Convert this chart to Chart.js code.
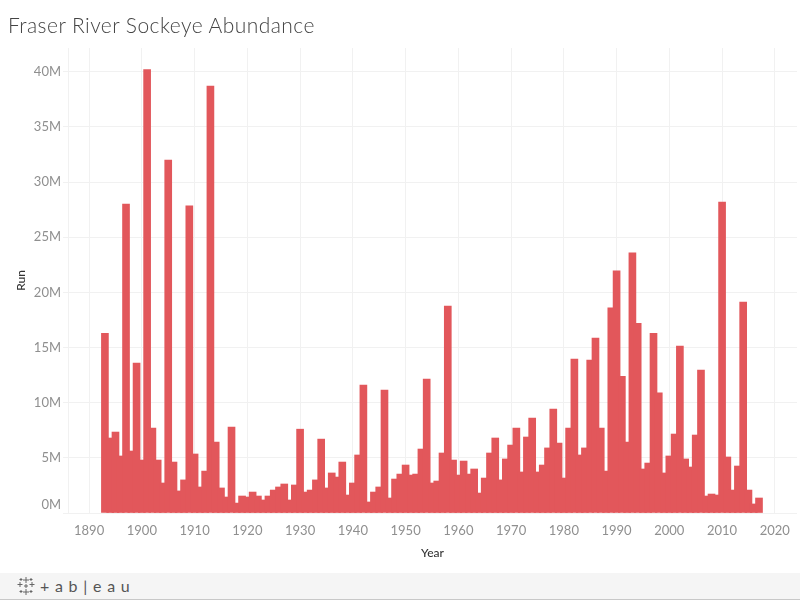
<!DOCTYPE html><html lang="en">
<head>
  <meta charset="UTF-8">
  <title>Fraser River Sockeye Abundance</title>
  <script src="https://cdn.jsdelivr.net/npm/chart.js"></script>
  <style>
    html, body { margin: 0; padding: 0; background: #fff; overflow: hidden; }
    #wrap { position: relative; width: 800px; height: 600px; font-family: Lato, sans-serif; }
    canvas { position: absolute; left: 0; top: 0; }
    h1 { position: absolute; left: 8px; top: 12px; margin: 0; font-size: 21px; line-height: 26px; font-weight: 300; color: #444; letter-spacing: 0.45px; white-space: nowrap; }
    #footer { position: absolute; left: 0; top: 573px; width: 800px; height: 26px; background: #f5f5f5; border-bottom: 1px solid #c8c8c8; }
    #footer svg { position: absolute; left: 16px; top: 3px; }
    #footer span { position: absolute; left: 40px; top: 2px; font-size: 16px; line-height: 22px; color: #555; letter-spacing: 0.8px; white-space: nowrap; }
  </style>
</head>
<body>
  <div id="wrap">
    <canvas id="chart" width="800" height="600"></canvas>
    <h1>Fraser River Sockeye Abundance</h1>
    <div id="footer">
      <svg width="20" height="20" viewBox="0 0 20 20" stroke="#666" stroke-width="1" fill="none">
        <path d="M10 1v6M7 4h6M10 13v6M7 16h6M4 6v5M1.500 8.500h5M16 6v5M13.500 8.500h5M5 2v3M3.500 3.500h3M15 2v3M13.500 3.500h3M5 14v3M3.500 15.500h3M15 14v3M13.500 15.500h3M10 8v4M8 10h4"/>
      </svg>
      <span>+ a b | e a u</span>
    </div>
  </div>
  <script>
    const firstYear = 1893;
    const runMillions = [
      16.3, 6.8, 7.34, 5.17, 28.0, 5.62, 13.6,
      4.8, 40.2, 7.7, 4.8, 2.72, 32.0, 4.62, 2.0, 3.0, 27.85,
      5.35, 2.36, 3.8, 38.7, 6.43, 2.27, 1.45, 7.8, 0.9, 1.54,
      1.45, 1.9, 1.54, 1.18, 1.54, 2.08, 2.36, 2.63, 1.18, 2.54,
      7.6, 1.9, 2.08, 3.0, 6.7, 2.27, 3.63, 3.26, 4.62, 1.63,
      2.72, 5.26, 11.6, 1.0, 1.9, 2.36, 11.15, 1.36, 3.08, 3.53,
      4.35, 3.44, 3.53, 5.8, 12.15, 2.72, 2.9, 5.44, 18.76, 4.8,
      3.44, 4.71, 3.53, 3.99, 1.81, 3.17, 5.44, 6.8, 3.0, 4.9,
      6.16, 7.7, 3.72, 6.89, 8.6, 3.72, 4.35, 5.9, 9.43, 6.34,
      3.17, 7.7, 13.96, 5.26, 5.9, 13.87, 15.86, 7.7, 3.8, 18.6,
      21.95, 12.4, 6.43, 23.6, 17.2, 3.99, 4.53, 16.3, 10.9, 3.63,
      5.17, 7.16, 15.14, 4.9, 4.17, 7.07, 12.96, 1.54, 1.72, 1.63,
      28.2, 5.08, 2.08, 4.26, 19.12, 2.08, 0.82, 1.36
    ];
    const yearTicks = [1890, 1900, 1910, 1920, 1930, 1940, 1950, 1960, 1970, 1980, 1990, 2000, 2010, 2020];
    const runTicks = [0, 5, 10, 15, 20, 25, 30, 35, 40];

    const points = runMillions.map((run, i) => ({ x: firstYear + i, y: run }));
    const gridColor = '#f1f1f1';
    const tickColor = '#8f8f8f';

    new Chart(document.getElementById('chart'), {
      type: 'bar',
      data: {
        datasets: [{
          label: 'Run',
          data: points,
          backgroundColor: '#e2575b',
          barThickness: 7,
          grouped: false
        }]
      },
      options: {
        responsive: false,
        animation: false,
        layout: { padding: { top: 48, right: 3, left: 0, bottom: 0 } },
        plugins: { legend: { display: false }, tooltip: { enabled: false } },
        scales: {
          x: {
            type: 'linear',
            offset: false,
            min: 1886,
            max: 2024.2,
            afterBuildTicks: axis => { axis.ticks = yearTicks.map(value => ({ value })); },
            afterFit: axis => { axis.height = 87; },
            grid: { color: gridColor, drawTicks: false, offset: false },
            border: { color: gridColor },
            ticks: {
              color: tickColor,
              padding: 10,
              maxRotation: 0,
              autoSkip: false,
              font: { family: 'Lato', size: 13 },
              callback: value => String(value)
            },
            title: {
              display: true,
              text: 'Year',
              color: '#333',
              font: { family: 'Lato', size: 12, weight: '500' },
              padding: { top: 40, bottom: 40 }
            }
          },
          y: {
            min: 0,
            max: 42.16,
            afterBuildTicks: axis => { axis.ticks = runTicks.map(value => ({ value })); },
            afterFit: axis => { axis.width = 68; },
            grid: { color: gridColor, tickLength: 5 },
            border: { color: gridColor },
            ticks: {
              color: tickColor,
              padding: 2,
              autoSkip: false,
              font: { family: 'Lato', size: 13 },
              // the zero label sits above its grid line in the original
              callback: value => value === 0 ? ['0M', ''] : value + 'M'
            },
            title: {
              display: true,
              text: 'Run',
              color: '#333',
              font: { family: 'Lato', size: 12, weight: '500' },
              padding: { top: 14, bottom: 0 }
            }
          }
        }
      }
    });
  </script>
</body>
</html>
